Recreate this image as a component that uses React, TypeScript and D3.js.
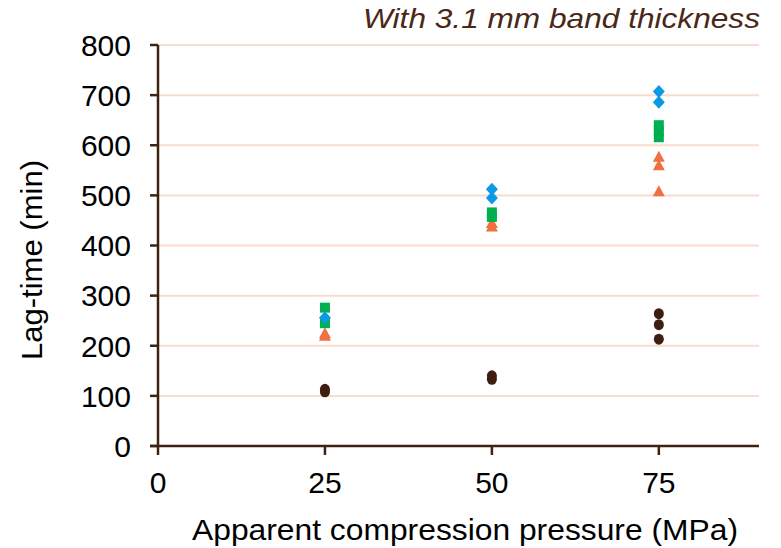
import React from "react";
import * as d3 from "d3";

const W = 781;
const H = 548;

const title = "With 3.1 mm band thickness";
const xLabel = "Apparent compression pressure (MPa)";
const yLabel = "Lag-time (min)";

const xTicks = [0, 25, 50, 75];
const yTicks = [0, 100, 200, 300, 400, 500, 600, 700, 800];

// series: [pressure, lag-time]
const circleData: [number, number][] = [
  [25, 108], [25, 113],
  [50, 133], [50, 140],
  [75, 213], [75, 242], [75, 264],
];
const triangleData: [number, number][] = [
  [25, 220], [25, 225],
  [50, 438], [50, 445],
  [75, 508], [75, 560], [75, 577],
];
const squareData: [number, number][] = [
  [25, 245], [25, 276],
  [50, 457], [50, 466],
  [75, 616], [75, 628], [75, 640],
];
const diamondData: [number, number][] = [
  [25, 256],
  [50, 495], [50, 512],
  [75, 686], [75, 707],
];

const axisColor = "#3d2314";
const gridColor = "#f8dccd";

export default function App() {
  const x = d3.scaleLinear().domain([0, 90]).range([158, 759]);
  const y = d3.scaleLinear().domain([0, 800]).range([446, 45]);
  const font = "Arial, 'Liberation Sans', sans-serif";

  return (
    <svg width={W} height={H} style={{ position: "absolute", left: 0, top: 0, background: "#fff" }}>
      {yTicks.filter((t) => t > 0).map((t) => (
        <line key={"g" + t} x1={x(0)} x2={x(90)} y1={y(t)} y2={y(t)} stroke={gridColor} strokeWidth={2} />
      ))}
      {/* axes */}
      <line x1={x(0)} x2={x(0)} y1={y(0)} y2={y(800)} stroke={axisColor} strokeWidth={2.5} />
      <line x1={x(0) - 8} x2={x(90)} y1={y(0)} y2={y(0)} stroke={axisColor} strokeWidth={2.5} />
      {yTicks.map((t) => (
        <g key={"y" + t}>
          <line x1={x(0) - 8} x2={x(0)} y1={y(t)} y2={y(t)} stroke={axisColor} strokeWidth={2.5} />
          <text x={131} y={y(t)} dy="0.36em" textAnchor="end" fontFamily={font} fontSize={30} fill="#000">
            {t}
          </text>
        </g>
      ))}
      {xTicks.map((t) => (
        <g key={"x" + t}>
          <line x1={x(t)} x2={x(t)} y1={y(0)} y2={y(0) + 9} stroke={axisColor} strokeWidth={2.5} />
          <text x={x(t)} y={493} textAnchor="middle" fontFamily={font} fontSize={30} fill="#000">
            {t}
          </text>
        </g>
      ))}
      <text x={192} y={540} textLength={546} lengthAdjust="spacingAndGlyphs" fontFamily={font} fontSize={30} fill="#000">
        {xLabel}
      </text>
      <text
        transform={`translate(42,360) rotate(-90)`}
        textLength={200}
        lengthAdjust="spacingAndGlyphs"
        fontFamily={font}
        fontSize={30}
        fill="#000"
      >
        {yLabel}
      </text>
      <text
        x={363}
        y={28}
        textLength={397}
        lengthAdjust="spacingAndGlyphs"
        fontFamily={font}
        fontSize={28}
        fontStyle="italic"
        fill="#4a2818"
      >
        {title}
      </text>

      {circleData.map(([a, b], i) => (
        <ellipse key={"c" + i} cx={x(a)} cy={y(b)} rx={5} ry={5.5} fill="#3d1e10" />
      ))}
      {triangleData.map(([a, b], i) => {
        const cx = x(a), cy = y(b);
        return (
          <path key={"t" + i} d={`M${cx},${cy - 6}L${cx + 6},${cy + 5}L${cx - 6},${cy + 5}Z`} fill="#f07042" />
        );
      })}
      {squareData.map(([a, b], i) => (
        <rect key={"s" + i} x={x(a) - 5} y={y(b) - 5} width={10} height={10} fill="#00b050" />
      ))}
      {diamondData.map(([a, b], i) => {
        const cx = x(a), cy = y(b);
        return (
          <path key={"d" + i} d={`M${cx},${cy - 6.5}L${cx + 6},${cy}L${cx},${cy + 6.5}L${cx - 6},${cy}Z`} fill="#0a9ae5" />
        );
      })}
    </svg>
  );
}
